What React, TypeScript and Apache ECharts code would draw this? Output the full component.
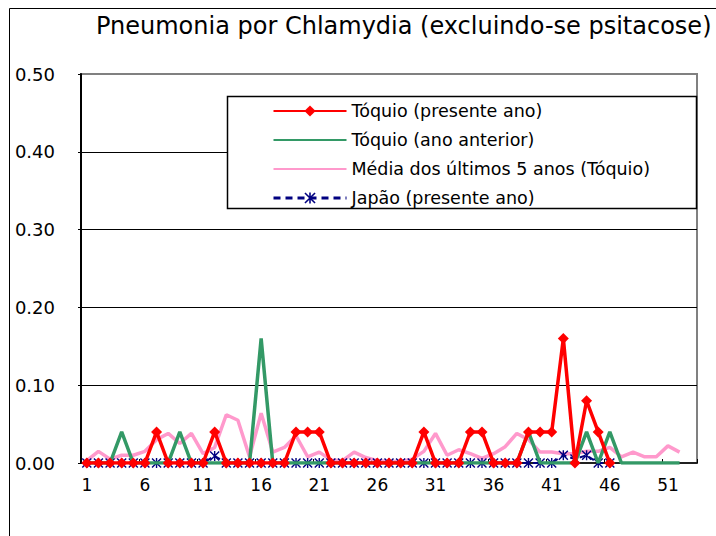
import React, { useEffect, useRef } from "react";
import * as echarts from "echarts";

const weeks = [
  "1","2","3","4","5","6","7","8","9","10",
  "11","12","13","14","15","16","17","18","19","20",
  "21","22","23","24","25","26","27","28","29","30",
  "31","32","33","34","35","36","37","38","39","40",
  "41","42","43","44","45","46","47","48","49","50",
  "51","52","53",
];

const tokyoCurrent = [
  0, 0, 0, 0, 0, 0, 0.04, 0, 0, 0,
  0, 0.04, 0, 0, 0, 0, 0, 0, 0.04, 0.04,
  0.04, 0, 0, 0, 0, 0, 0, 0, 0, 0.04,
  0, 0, 0, 0.04, 0.04, 0, 0, 0, 0.04, 0.04,
  0.04, 0.16, 0, 0.08, 0.04, 0, null, null, null, null,
  null, null, null,
];

const tokyoPrevious = [
  0, 0, 0, 0.04, 0, 0, 0, 0, 0.04, 0,
  0, 0, 0, 0, 0, 0.16, 0, 0, 0, 0,
  0, 0, 0, 0, 0, 0, 0, 0, 0, 0,
  0, 0, 0, 0, 0, 0, 0, 0, 0.04, 0,
  0, 0, 0, 0.04, 0, 0.04, 0, 0, 0, 0,
  0, 0, null,
];

const tokyoAvg5 = [
  0.003, 0.015, 0.005, 0.01, 0.01, 0.015, 0.03, 0.038, 0.025, 0.038,
  0.012, 0.02, 0.062, 0.055, 0.008, 0.064, 0.014, 0.02, 0.035, 0.008,
  0.014, 0.004, 0.003, 0.014, 0.007, 0.003, 0.002, 0.002, 0.005, 0.015,
  0.038, 0.01, 0.017, 0.012, 0.006, 0.012, 0.021, 0.038, 0.03, 0.014,
  0.014, 0.012, 0.012, 0.015, 0.015, 0.02, 0.008, 0.014, 0.008, 0.008,
  0.022, 0.014, null,
];

const japanCurrent = [
  0, 0, 0, 0, 0, 0, 0, 0, 0, 0,
  0, 0.009, 0, 0, 0, 0, 0, 0, 0, 0,
  0, 0, 0, 0, 0, 0, 0, 0, 0, 0,
  0, 0, 0, 0, 0, 0, 0, 0, 0, 0,
  0, 0.01, 0.005, 0.01, 0, 0, null, null, null, null,
  null, null, null,
];

const yTicks = [0, 0.1, 0.2, 0.3, 0.4, 0.5];

const NAMES = [
  "Tóquio (presente ano)",
  "Tóquio (ano anterior)",
  "Média dos últimos 5 anos (Tóquio)",
  "Japão (presente ano)",
];

const FONT = "DejaVu Sans";
const ASTERISK =
  "path://M4.3,0H5.7V10H4.3Z M0,1L1,0L10,9L9,10Z M9,0L10,1L1,10L0,9Z";

export default function App() {
  const ref = useRef<HTMLDivElement>(null);

  useEffect(() => {
    if (!ref.current) return;
    const chart = echarts.init(ref.current, undefined, { renderer: "svg" });
    chart.setOption({
      animation: false,
      backgroundColor: "#ffffff",
      textStyle: { fontFamily: FONT },
      title: {
        text: "Pneumonia por Chlamydia (excluindo-se psitacose)",
        left: 96,
        top: 14,
        padding: 0,
        textStyle: {
          fontFamily: FONT,
          fontSize: 24,
          fontWeight: "normal",
          color: "#000",
        },
      },
      graphic: [
        {
          type: "rect",
          z: 0,
          silent: true,
          shape: { x: 9.5, y: 8.5, width: 800, height: 700 },
          style: { fill: "none", stroke: "#000", lineWidth: 1 },
        },
        {
          type: "rect",
          z: 3,
          silent: true,
          shape: { x: 227.5, y: 96.5, width: 469, height: 112 },
          style: { fill: "#fff", stroke: "#000", lineWidth: 1.5 },
        },
      ],
      legend: {
        data: [
          { name: NAMES[0] },
          { name: NAMES[1], itemStyle: { opacity: 0 } },
          { name: NAMES[2], itemStyle: { opacity: 0 } },
          { name: NAMES[3], lineStyle: { width: 3, type: [7, 5] } },
        ],
        orient: "vertical",
        left: 272,
        top: 102,
        padding: 0,
        itemWidth: 73,
        itemHeight: 14,
        itemGap: 11,
        z: 5,
        textStyle: {
          fontFamily: FONT,
          fontSize: 17.5,
          lineHeight: 17,
          color: "#000",
        },
      },
      grid: {
        left: 81,
        right: 19,
        top: 74,
        bottom: 73,
        show: true,
        borderColor: "#808080",
        borderWidth: 2,
        backgroundColor: "transparent",
      },
      xAxis: {
        type: "category",
        data: weeks,
        boundaryGap: true,
        axisLine: { show: true, lineStyle: { color: "#000", width: 1.5 } },
        axisTick: {
          show: true,
          inside: true,
          length: 4,
          interval: 4,
          lineStyle: { color: "#000" },
        },
        axisLabel: {
          interval: 4,
          margin: 13,
          fontFamily: FONT,
          fontSize: 17,
          color: "#000",
        },
        splitLine: { show: false },
      },
      yAxis: {
        type: "value",
        min: yTicks[0],
        max: yTicks[yTicks.length - 1],
        interval: 0.1,
        axisLine: { show: true, lineStyle: { color: "#000", width: 2 } },
        axisTick: { show: true, length: 3, lineStyle: { color: "#000" } },
        axisLabel: {
          margin: 26,
          fontFamily: FONT,
          fontSize: 18,
          color: "#000",
          formatter: (v: number) => v.toFixed(2),
        },
        splitLine: {
          show: true,
          showMaxLine: false,
          showMinLine: false,
          lineStyle: { color: "#000", width: 1 },
        },
      },
      series: [
        {
          name: NAMES[2],
          type: "line",
          data: tokyoAvg5,
          symbol: "none",
          z: 2,
          lineStyle: { color: "#ff99cc", width: 3.5 },
          itemStyle: { color: "#ff99cc" },
        },
        {
          name: NAMES[3],
          type: "line",
          data: japanCurrent,
          symbol: ASTERISK,
          symbolSize: 10,
          showAllSymbol: true,
          z: 3,
          lineStyle: { color: "#000080", width: 2, type: [6, 4] },
          itemStyle: { color: "#000080", borderWidth: 0 },
        },
        {
          name: NAMES[1],
          type: "line",
          data: tokyoPrevious,
          symbol: "none",
          z: 4,
          lineStyle: { color: "#339966", width: 3.5 },
          itemStyle: { color: "#339966" },
        },
        {
          name: NAMES[0],
          type: "line",
          data: tokyoCurrent,
          symbol: "diamond",
          symbolSize: 11,
          showAllSymbol: true,
          z: 5,
          lineStyle: { color: "#ff0000", width: 3.5 },
          itemStyle: { color: "#ff0000", borderWidth: 0 },
        },
      ],
    });
    return () => chart.dispose();
  }, []);

  return (
    <div
      ref={ref}
      style={{ position: "fixed", left: 0, top: 0, width: 716, height: 536 }}
    />
  );
}
